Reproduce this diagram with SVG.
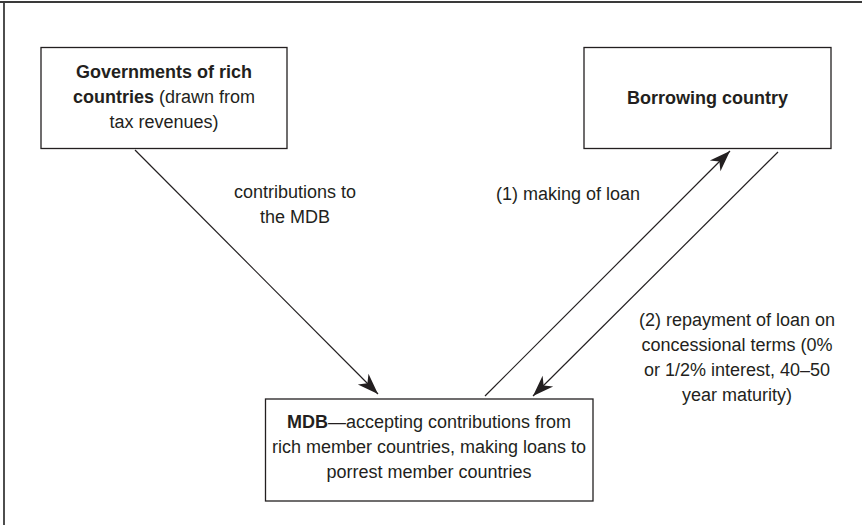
<svg xmlns="http://www.w3.org/2000/svg" width="862" height="525" viewBox="0 0 862 525">
<style>
.box{fill:#fff;stroke:#231f20;stroke-width:1.3}
.frame{stroke:#3a3a3a;stroke-width:1.8;fill:none}
.conn{stroke:#231f20;stroke-width:1.2;fill:none}
text{font-family:"Liberation Sans",Arial,sans-serif;font-size:18px;fill:#231f20;text-anchor:middle}
.b{font-weight:bold}
</style>
<defs>
<marker id="ah" markerUnits="userSpaceOnUse" markerWidth="24" markerHeight="18" viewBox="-22 -9 24 18" refX="0" refY="0" orient="auto">
<path d="M0,0 L-21,-7.5 L-15,0 L-21,7.5 Z" fill="#231f20"/>
</marker>
</defs>
<g id="frame">
<line class="frame" x1="0" y1="2" x2="862" y2="2"/>
<line class="frame" x1="4" y1="2" x2="4" y2="525"/>
</g>
<g id="connectors">
<line class="conn" x1="135" y1="150" x2="378" y2="394" marker-end="url(#ah)"/>
<line class="conn" x1="485" y1="396" x2="730" y2="151" marker-end="url(#ah)"/>
<line class="conn" x1="778" y1="152" x2="533" y2="396" marker-end="url(#ah)"/>
<text x="295" y="198">contributions to</text>
<text x="295" y="223">the MDB</text>
<text x="568" y="200">(1) making of loan</text>
<text x="737" y="326">(2) repayment of loan on</text>
<text x="737" y="351">concessional terms (0%</text>
<text x="737" y="376">or 1/2% interest, 40–50</text>
<text x="737" y="401">year maturity)</text>
</g>
<g id="governments">
<rect class="box" x="41" y="47.5" width="246" height="101"/>
<text x="164" y="77.5" class="b">Governments of rich</text>
<text x="164" y="103"><tspan class="b">countries</tspan> (drawn from</text>
<text x="164" y="128">tax revenues)</text>
</g>
<g id="borrowing">
<rect class="box" x="584" y="47.5" width="247" height="101"/>
<text x="707.5" y="104" class="b">Borrowing country</text>
</g>
<g id="mdb">
<rect class="box" x="265.5" y="399" width="327.5" height="102"/>
<text x="429" y="428"><tspan class="b">MDB</tspan>—accepting contributions from</text>
<text x="429" y="453">rich member countries, making loans to</text>
<text x="429" y="478">porrest member countries</text>
</g>
</svg>
